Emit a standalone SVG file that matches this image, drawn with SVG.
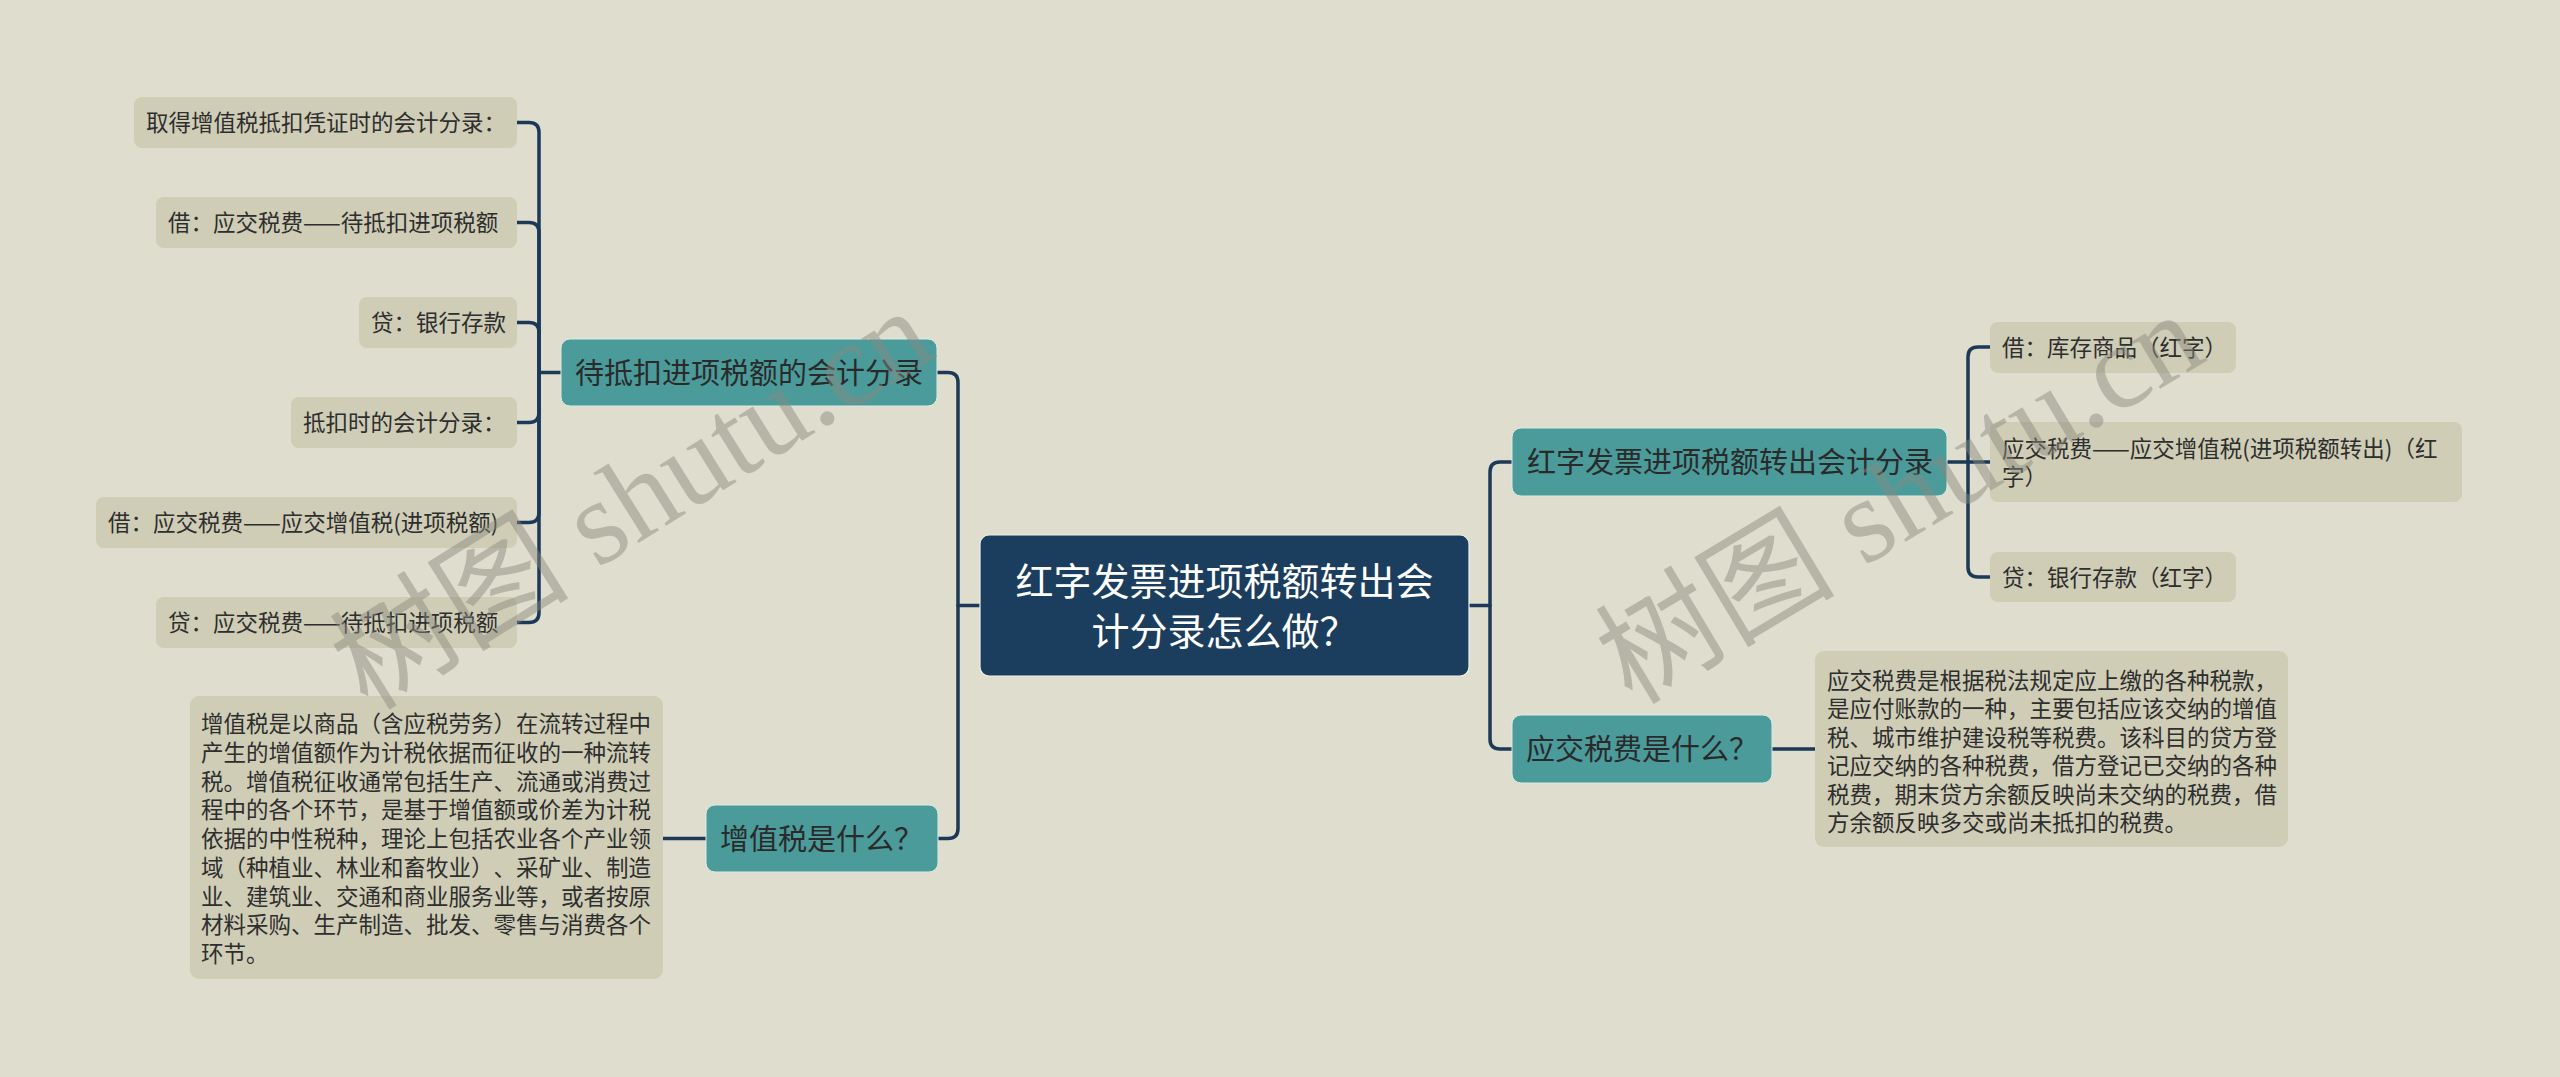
<svg xmlns="http://www.w3.org/2000/svg" width="2560" height="1077" viewBox="0 0 2560 1077">
<style>
.bg{fill:#dfddcd}
text{text-spacing-trim:space-all}
.root rect{fill:#1b3e5e;stroke:#eef0e6;stroke-width:1.2}
.root text{fill:#ffffff;font-size:38px;font-family:"Noto Sans CJK SC","Liberation Sans",sans-serif;text-anchor:middle}
.br rect{fill:#4b9b9b;stroke:#d9ece6;stroke-width:1}
.br text{fill:#2a2a2a;font-size:29px;font-family:"Noto Sans CJK SC","Liberation Sans",sans-serif}
.lf rect{fill:#cfcdb6}
.lf text{fill:#2e2e2e;font-size:22.5px;font-family:"Noto Sans CJK SC","Liberation Sans",sans-serif}
.conn path{fill:none;stroke:#1c3a57;stroke-width:3.5;stroke-linecap:round;stroke-linejoin:round}
.wm{fill:#8a8a7e;opacity:0.47;font-size:120px;font-family:"Liberation Serif","Noto Sans CJK SC",serif}
</style>
<rect class="bg" x="0" y="0" width="2560" height="1077"/>

<g id="connectors" class="conn">
  <path d="M980,605.5 H958"/>
  <path d="M937,372.5 H948 Q958,372.5 958,382.5 V828.5 Q958,838.5 948,838.5 H938"/>
  <path d="M1469,605.5 H1490"/>
  <path d="M1512,462 H1500 Q1490,462 1490,472 V739 Q1490,749 1500,749 H1512"/>
  <path d="M561,372.5 H539"/>
  <path d="M539,372.5 V132.5 Q539,122.5 529,122.5 H517"/>
  <path d="M539,372.5 V232.5 Q539,222.5 529,222.5 H517"/>
  <path d="M539,372.5 V332.5 Q539,322.5 529,322.5 H517"/>
  <path d="M539,372.5 V412.5 Q539,422.5 529,422.5 H517"/>
  <path d="M539,372.5 V512.5 Q539,522.5 529,522.5 H517"/>
  <path d="M539,372.5 V612.5 Q539,622.5 529,622.5 H517"/>
  <path d="M706,838.5 H663"/>
  <path d="M1947,462 H1968"/>
  <path d="M1968,462 V357 Q1968,347 1978,347 H1990"/>
  <path d="M1968,462 H1990"/>
  <path d="M1968,462 V567 Q1968,577 1978,577 H1990"/>
  <path d="M1772,749 H1815"/>
</g>

<g id="root" class="root">
  <rect x="980" y="535" width="489" height="141" rx="9"/>
  <text x="1224.5" y="594.5">红字发票进项税额转出会</text>
  <text x="1224.5" y="644.5">计分录怎么做？</text>
</g>

<g id="branch-daidikou" class="br">
  <rect x="561" y="339" width="376" height="67" rx="9"/>
  <text x="575" y="383.5">待抵扣进项税额的会计分录</text>
</g>
<g id="branch-zengzhishui" class="br">
  <rect x="706" y="805" width="232" height="67" rx="9"/>
  <text x="720" y="849.5">增值税是什么？</text>
</g>
<g id="branch-hongzi" class="br">
  <rect x="1512" y="428" width="435" height="68" rx="9"/>
  <text x="1527" y="473">红字发票进项税额转出会计分录</text>
</g>
<g id="branch-yingjiao" class="br">
  <rect x="1512" y="715" width="260" height="68" rx="9"/>
  <text x="1526" y="760">应交税费是什么？</text>
</g>

<g id="leaf-l1" class="lf">
  <rect x="134" y="97" width="383" height="51" rx="8"/>
  <text x="146" y="131">取得增值税抵扣凭证时的会计分录：</text>
</g>
<g id="leaf-l2" class="lf">
  <rect x="156" y="197" width="361" height="51" rx="8"/>
  <text x="168" y="231">借：应交税费——待抵扣进项税额</text>
</g>
<g id="leaf-l3" class="lf">
  <rect x="359" y="297" width="158" height="51" rx="8"/>
  <text x="371" y="331">贷：银行存款</text>
</g>
<g id="leaf-l4" class="lf">
  <rect x="291" y="397" width="226" height="51" rx="8"/>
  <text x="303" y="431">抵扣时的会计分录：</text>
</g>
<g id="leaf-l5" class="lf">
  <rect x="96" y="497" width="421" height="51" rx="8"/>
  <text x="108" y="531">借：应交税费——应交增值税(进项税额)</text>
</g>
<g id="leaf-l6" class="lf">
  <rect x="156" y="597" width="361" height="51" rx="8"/>
  <text x="168" y="631">贷：应交税费——待抵扣进项税额</text>
</g>

<g id="leaf-zzs-desc" class="lf">
  <rect x="190" y="696" width="473" height="283" rx="9"/>
  <text x="201" y="732">增值税是以商品（含应税劳务）在流转过程中</text>
  <text x="201" y="760.75">产生的增值额作为计税依据而征收的一种流转</text>
  <text x="201" y="789.5">税。增值税征收通常包括生产、流通或消费过</text>
  <text x="201" y="818.25">程中的各个环节，是基于增值额或价差为计税</text>
  <text x="201" y="847">依据的中性税种，理论上包括农业各个产业领</text>
  <text x="201" y="875.75" textLength="450" lengthAdjust="spacing">域（种植业、林业和畜牧业）、采矿业、制造</text>
  <text x="201" y="904.5">业、建筑业、交通和商业服务业等，或者按原</text>
  <text x="201" y="933.25">材料采购、生产制造、批发、零售与消费各个</text>
  <text x="201" y="962">环节。</text>
</g>

<g id="leaf-r1" class="lf">
  <rect x="1990" y="322" width="246" height="51" rx="8"/>
  <text x="2002" y="355.5">借：库存商品（红字）</text>
</g>
<g id="leaf-r2" class="lf">
  <rect x="1990" y="422" width="472" height="80" rx="8"/>
  <text x="2002" y="456.5">应交税费——应交增值税(进项税额转出)（红</text>
  <text x="2002" y="485">字）</text>
</g>
<g id="leaf-r3" class="lf">
  <rect x="1990" y="552" width="246" height="50" rx="8"/>
  <text x="2002" y="585.5">贷：银行存款（红字）</text>
</g>

<g id="leaf-yjsf-desc" class="lf">
  <rect x="1815" y="651" width="473" height="196" rx="9"/>
  <text x="1827" y="688.5">应交税费是根据税法规定应上缴的各种税款，</text>
  <text x="1827" y="717">是应付账款的一种，主要包括应该交纳的增值</text>
  <text x="1827" y="745.5">税、城市维护建设税等税费。该科目的贷方登</text>
  <text x="1827" y="774">记应交纳的各种税费，借方登记已交纳的各种</text>
  <text x="1827" y="802.5">税费，期末贷方余额反映尚未交纳的税费，借</text>
  <text x="1827" y="831">方余额反映多交或尚未抵扣的税费。</text>
</g>

<g id="watermarks">
  <text class="wm" x="368" y="712" transform="rotate(-32 368 712)">树图 shutu.cn</text>
  <text class="wm" x="1632" y="706" transform="rotate(-31 1632 706)">树图 shutu.cn</text>
</g>
</svg>
